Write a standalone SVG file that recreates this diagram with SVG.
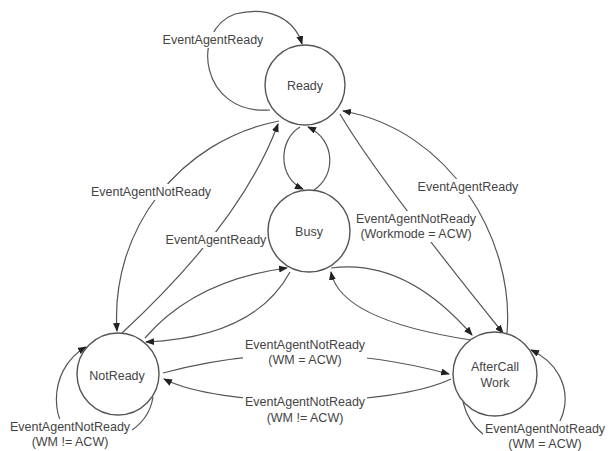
<svg xmlns="http://www.w3.org/2000/svg" width="611" height="451" viewBox="0 0 611 451">
<defs>
<marker id="arr" markerUnits="userSpaceOnUse" markerWidth="9" markerHeight="7" refX="8" refY="3.5" orient="auto">
<path d="M0,0 L9,3.5 L0,7 z" fill="#222"/>
</marker>
<style>
.node circle{fill:#fff;stroke:#555;stroke-width:1.4}
.node text,.lbl text{font-family:"Liberation Sans",Arial,sans-serif;font-size:12.5px;fill:#444;text-anchor:middle}
.edge{fill:none;stroke:#555;stroke-width:1.2;marker-end:url(#arr)}
.bg{fill:#fff}
</style>
</defs>
<rect width="611" height="451" fill="#fff"/>
<g id="connectors">
<path class="edge" d="M270,110 C200,115 190,30 235,14 C270,5 295,20 302,44"/>
<path class="edge" d="M300,127 C278,140 278,178 303,189"/>
<path class="edge" d="M314,190 C336,176 336,140 308,127"/>
<path class="edge" d="M279,121 C180,140 110,230 117,331"/>
<path class="edge" d="M122,333 C190,270 250,200 278,124"/>
<path class="edge" d="M340,114 C370,165 440,255 503,333"/>
<path class="edge" d="M507,333 C515,240 450,130 343,111"/>
<path class="edge" d="M145,338 Q195,280 287,268"/>
<path class="edge" d="M290,272 Q255,337 146,342"/>
<path class="edge" d="M331,268 Q405,258 472,335"/>
<path class="edge" d="M471,340 Q340,320 331,272"/>
<path class="edge" d="M163,373 Q305,335 449,374"/>
<path class="edge" d="M451,379 C390,408 220,408 164,379"/>
<path class="edge" d="M153,397 C148,430 110,448 80,440 C50,432 45,370 86,347"/>
<path class="edge" d="M463,402 C470,430 490,445 520,445 C570,445 585,375 531,350"/>
<g class="lbl">
<rect class="bg" x="161" y="32" width="104" height="16"/>
<text x="213" y="44">EventAgentReady</text>
<rect class="bg" x="89" y="184" width="124" height="16"/>
<text x="151" y="196">EventAgentNotReady</text>
<rect class="bg" x="164" y="232" width="104" height="16"/>
<text x="216" y="244">EventAgentReady</text>
<rect class="bg" x="416" y="179" width="104" height="16"/>
<text x="468" y="191">EventAgentReady</text>
<rect class="bg" x="354" y="211" width="124" height="31"/>
<text x="416" y="223">EventAgentNotReady</text>
<text x="416" y="238">(Workmode = ACW)</text>
<rect class="bg" x="243" y="337" width="124" height="31"/>
<text x="305" y="349">EventAgentNotReady</text>
<text x="305" y="364">(WM = ACW)</text>
<rect class="bg" x="243" y="394" width="124" height="32"/>
<text x="305" y="406">EventAgentNotReady</text>
<text x="305" y="422">(WM != ACW)</text>
<rect class="bg" x="8" y="419" width="124" height="31"/>
<text x="70" y="431">EventAgentNotReady</text>
<text x="70" y="446">(WM != ACW)</text>
<rect class="bg" x="483" y="421" width="124" height="30"/>
<text x="545" y="433">EventAgentNotReady</text>
<text x="545" y="448">(WM = ACW)</text>
</g>
</g>
<g id="ready" class="node"><circle cx="305" cy="85" r="40"/><text x="305" y="90">Ready</text></g>
<g id="busy" class="node"><circle cx="309" cy="231" r="41"/><text x="309" y="236">Busy</text></g>
<g id="notready" class="node"><circle cx="118" cy="374" r="41"/><text x="117" y="380">NotReady</text></g>
<g id="aftercallwork" class="node"><circle cx="495" cy="374" r="42"/><text x="495" y="371">AfterCall</text><text x="495" y="387">Work</text></g>
</svg>
